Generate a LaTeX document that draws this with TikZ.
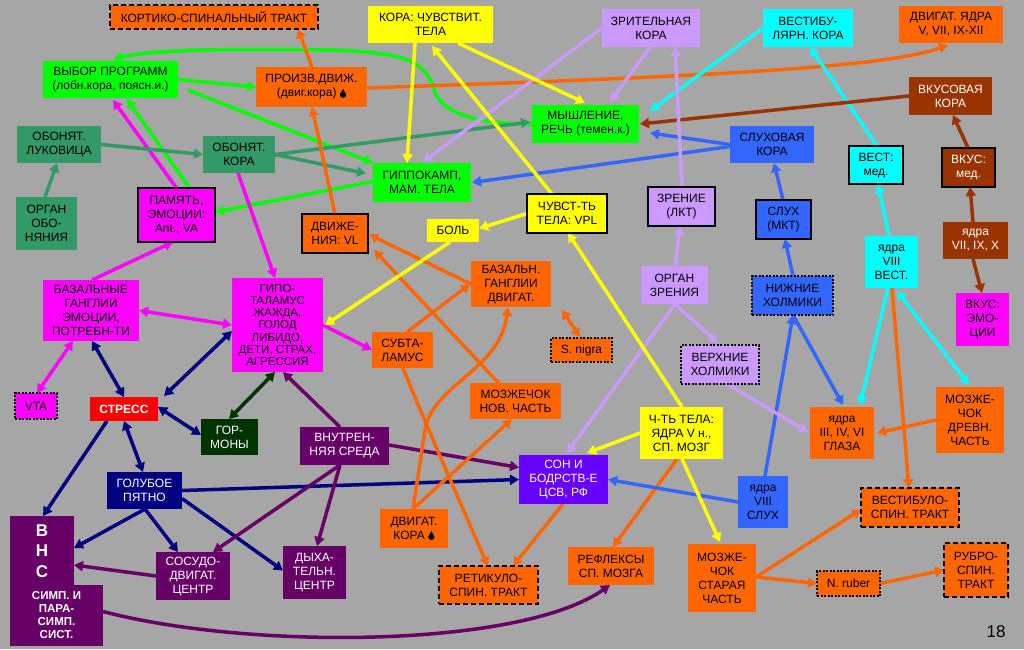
\documentclass[tikz,border=0pt]{standalone}
\usepackage{fontspec}
\setmainfont{Liberation Sans}
\usetikzlibrary{arrows.meta,calc}
\definecolor{bgc}{HTML}{A6A6A6}
\definecolor{cor}{HTML}{FF6600}
\definecolor{cye}{HTML}{FFFF00}
\definecolor{clav}{HTML}{CC99FF}
\definecolor{ccy}{HTML}{00FFFF}
\definecolor{cgr}{HTML}{00FF00}
\definecolor{cbr}{HTML}{993300}
\definecolor{csg}{HTML}{339966}
\definecolor{cbl}{HTML}{3366FF}
\definecolor{cmg}{HTML}{FF00FF}
\definecolor{cred}{HTML}{FF0000}
\definecolor{cnv}{HTML}{000080}
\definecolor{cdg}{HTML}{003300}
\definecolor{cpu}{HTML}{660066}
\definecolor{cvi}{HTML}{6600FF}
\pgfdeclarelayer{bgl}\pgfdeclarelayer{edl}\pgfsetlayers{bgl,edl,main}
\newcommand\bx[7]{\node[box,#6,minimum width={#4pt-#2pt},minimum height={#5pt-#3pt}] (#1) at ({(#2+#4)/2},{(#3+#5)/2}) {#7};}
\newcommand\drp{\tikz[baseline=0pt]\fill[black] (0pt,8pt) .. controls (0.7pt,5.5pt) and (3.2pt,4pt) .. (3.2pt,2.3pt) .. controls (3.2pt,0.5pt) and (1.8pt,-0.9pt) .. (0pt,-0.9pt) .. controls (-1.8pt,-0.9pt) and (-3.2pt,0.5pt) .. (-3.2pt,2.3pt) .. controls (-3.2pt,4pt) and (-0.7pt,5.5pt) .. cycle;}
\begin{document}
\begin{tikzpicture}[x=1pt,y=-1pt,
 box/.style={rectangle,inner sep=1pt,outer sep=0pt,align=center,font=\fontsize{12}{14}\selectfont,text=black},
 bd/.style={draw=black,line width=1.2pt},
 dsh/.style={draw=black,line width=1.3pt,dash pattern=on 5pt off 3pt},
 dtt/.style={draw=black,line width=2pt,dash pattern=on 2pt off 1.5pt},
 ar/.style={line width=3.5pt,-{Triangle[length=9pt,width=10pt]}},
 dar/.style={line width=3.5pt,{Triangle[length=9pt,width=10pt]}-{Triangle[length=9pt,width=10pt]}}]
\useasboundingbox (0,0) rectangle (1024,649);
\begin{pgfonlayer}{bgl}
\fill[bgc] (0,0) rectangle (1024,649);
\end{pgfonlayer}
% nodes
\bx{kort}{110}{5}{318}{29}{fill=cor,dsh}{КОРТИКО-СПИНАЛЬНЫЙ ТРАКТ}
\bx{korach}{368}{6}{493}{43}{fill=cye}{КОРА: ЧУВСТВИТ.\\ТЕЛА}
\bx{zrk}{602}{9}{700}{47}{fill=clav}{ЗРИТЕЛЬНАЯ\\КОРА}
\bx{vestk}{763}{9}{853}{47}{fill=ccy}{ВЕСТИБУ-\\ЛЯРН. КОРА}
\bx{dvyad}{899}{6}{1003}{43}{fill=cor}{ДВИГАТ. ЯДРА\\V, VII, IX-XII}
\bx{vybor}{43}{61}{178}{98}{fill=cgr}{ВЫБОР ПРОГРАММ\\(лобн.кора, поясн.и.)}
\bx{proizv}{256}{67}{367}{107}{fill=cor}{ПРОИЗВ.ДВИЖ.\\(двиг.кора) \drp}
\bx{vkusk}{909}{77}{992}{115}{fill=cbr,text=white}{ВКУСОВАЯ\\КОРА}
\bx{mysh}{532}{105}{639}{143}{fill=cgr}{МЫШЛЕНИЕ,\\РЕЧЬ (темен.к.)}
\bx{oblu}{17}{126}{101}{163}{fill=csg}{ОБОНЯТ.\\ЛУКОВИЦА}
\bx{obk}{203}{136}{275}{173}{fill=csg}{ОБОНЯТ.\\КОРА}
\bx{gipk}{373}{163}{471}{202}{fill=cgr}{ГИППОКАМП,\\МАМ. ТЕЛА}
\bx{sluhk}{730}{126}{814}{163}{fill=cbl}{СЛУХОВАЯ\\КОРА}
\bx{vestmed}{849}{146}{903}{184}{fill=ccy,bd}{ВЕСТ:\\мед.}
\bx{vkusmed}{942}{148}{995}{187}{fill=cbr,bd,text=white}{ВКУС:\\мед.}
\bx{organob}{16}{197}{77}{250}{fill=csg}{ОРГАН\\ОБО-\\НЯНИЯ}
\bx{pam}{138}{188}{215}{242}{fill=cmg,bd}{ПАМЯТЬ,\\ЭМОЦИИ:\\Ant., VA}
\bx{dvvl}{302}{214}{368}{253}{fill=cor,bd}{ДВИЖЕ-\\НИЯ: VL}
\bx{bol}{427}{219}{479}{242}{fill=cye}{БОЛЬ}
\bx{vpl}{527}{194}{607}{233}{fill=cye,bd}{ЧУВСТ-ТЬ\\ТЕЛА: VPL}
\bx{lkt}{648}{187}{715}{226}{fill=clav,bd}{ЗРЕНИЕ\\(ЛКТ)}
\bx{mkt}{756}{200}{811}{239}{fill=cbl,bd}{СЛУХ\\(МКТ)}
\bx{yad8v}{865}{236}{918}{288}{fill=ccy}{ядра\\VIII\\ВЕСТ.}
\bx{yad79}{943}{222}{1008}{259}{fill=cbr,text=white}{ядра\\VII, IX, X}
\bx{vkusemo}{956}{293}{1009}{346}{fill=cmg}{ВКУС:\\ЭМО-\\ЦИИ}
\bx{nizh}{752}{276}{833}{315}{fill=cbl,dtt}{НИЖНИЕ\\ХОЛМИКИ}
\bx{bazem}{43}{280}{139}{341}{fill=cmg}{БАЗАЛЬНЫЕ\\ГАНГЛИИ\\ЭМОЦИИ,\\ПОТРЕБН-ТИ}
\bx{gipot}{232}{278}{323}{372}{fill=cmg,font=\fontsize{11.5}{12.3}\selectfont}{ГИПО-\\ТАЛАМУС\\ЖАЖДА,\\ГОЛОД\\ЛИБИДО,\\ДЕТИ, СТРАХ,\\АГРЕССИЯ}
\bx{bazdv}{471}{261}{551}{307}{fill=cor}{БАЗАЛЬН.\\ГАНГЛИИ\\ДВИГАТ.}
\bx{subt}{372}{332}{433}{368}{fill=cor}{СУБТА-\\ЛАМУС}
\bx{snigra}{551}{338}{612}{362}{fill=cor,dtt}{S. nigra}
\bx{orgzr}{641}{266}{708}{304}{fill=clav}{ОРГАН\\ЗРЕНИЯ}
\bx{verh}{681}{345}{759}{384}{fill=clav,dtt}{ВЕРХНИЕ\\ХОЛМИКИ}
\bx{vta}{15}{393}{57}{419}{fill=cmg,dtt}{VTA}
\bx{stress}{90}{397}{158}{421}{fill=cred,text=white,font=\bfseries\fontsize{12}{14}\selectfont}{СТРЕСС}
\bx{gorm}{201}{419}{258}{455}{fill=cdg,text=white}{ГОР-\\МОНЫ}
\bx{mozhnov}{470}{383}{561}{419}{fill=cor}{МОЗЖЕЧОК\\НОВ. ЧАСТЬ}
\bx{mozhdr}{936}{387}{1004}{453}{fill=cor}{МОЗЖЕ-\\ЧОК\\ДРЕВН.\\ЧАСТЬ}
\bx{yad346}{810}{407}{874}{459}{fill=cor}{ядра\\III, IV, VI\\ГЛАЗА}
\bx{chtel}{640}{407}{723}{459}{fill=cye}{Ч-ТЬ ТЕЛА:\\ЯДРА V н.,\\СП. МОЗГ}
\bx{vnutr}{300}{427}{389}{465}{fill=cpu,text=white}{ВНУТРЕН-\\НЯЯ СРЕДА}
\bx{golub}{107}{472}{182}{509}{fill=cnv,text=white}{ГОЛУБОЕ\\ПЯТНО}
\bx{son}{519}{455}{608}{504}{fill=cvi,text=white}{СОН И\\БОДРСТВ-Е\\ЦСВ, РФ}
\bx{yad8s}{738}{476}{788}{528}{fill=cbl}{ядра\\VIII\\СЛУХ}
\bx{vestsp}{861}{488}{959}{527}{fill=cor,dsh}{ВЕСТИБУЛО-\\СПИН. ТРАКТ}
\bx{vns}{10}{516}{74}{586}{fill=cpu,text=white,font=\bfseries\fontsize{17}{20.5}\selectfont}{В\\Н\\С}
\bx{vnsb}{10}{585}{103}{646}{fill=cpu,text=white,font=\bfseries\fontsize{11.5}{13}\selectfont}{СИМП. И\\ПАРА-\\СИМП.\\СИСТ.}
\bx{sosud}{156}{552}{230}{600}{fill=cpu,text=white}{СОСУДО-\\ДВИГАТ.\\ЦЕНТР}
\bx{dyh}{283}{546}{346}{599}{fill=cpu,text=white}{ДЫХА-\\ТЕЛЬН.\\ЦЕНТР}
\bx{dvkora}{380}{509}{448}{548}{fill=cor}{ДВИГАТ.\\КОРА \drp}
\bx{retik}{439}{566}{538}{604}{fill=cor,dsh}{РЕТИКУЛО-\\СПИН. ТРАКТ}
\bx{refl}{568}{547}{654}{585}{fill=cor}{РЕФЛЕКСЫ\\СП. МОЗГА}
\bx{mozhst}{688}{544}{756}{612}{fill=cor}{МОЗЖЕ-\\ЧОК\\СТАРАЯ\\ЧАСТЬ}
\bx{nruber}{817}{571}{880}{596}{fill=cor,dtt}{N. ruber}
\bx{rubro}{944}{543}{1008}{597}{fill=cor,dsh}{РУБРО-\\СПИН.\\ТРАКТ}
\node[font=\fontsize{17}{20}\selectfont] (pg) at (996,632) {18};
% connectors
\begin{pgfonlayer}{edl}
% green
\draw[ar,cgr] (mysh.west) .. controls (480,124) and (440,115) .. (433,87) .. controls (425,60) and (400,52) .. (330,50) .. controls (230,48) and (150,50) .. ($(vybor.north)+(3,-2)$);
\draw[ar,cgr] (vybor.east) -- (proizv.west);
\draw[ar,cgr] ($(vybor.south east)+(10,-8)$) -- (gipk.north west);
\draw[ar,cgr] ($(gipk.west)+(0,-1)$) -- ($(pam.east)+(0,-3)$);
\draw[ar,cgr] ($(pam.north)+(13,0)$) -- ($(vybor.south west)+(84,1)$);
% magenta
\draw[ar,cmg] (pam.north) -- ($(vybor.south west)+(70,2)$);
\draw[ar,cmg] ($(obk.south west)+(35,0)$) -- ($(gipot.north west)+(43,0)$);
\draw[ar,cmg] ($(bazem.north west)+(49,0)$) -- ($(pam.south west)+(35,0)$);
\draw[dar,cmg] (bazem.east) -- (gipot.west);
\draw[dar,cmg] ($(bazem.south west)+(30,0)$) -- ($(vta.north west)+(22,0)$);
\draw[ar,cmg] (gipot.east) -- (subt.west);
% navy
\draw[dar,cnv] ($(bazem.south west)+(49,0)$) -- ($(stress.north west)+(34,0)$);
\draw[dar,cnv] ($(gipot.west)+(0,6)$) -- ($(stress.north east)+(6,-1)$);
\draw[dar,cnv] ($(stress.east)+(0,-2)$) -- ($(gorm.west)+(0,-2)$);
\draw[dar,cnv] ($(stress.south west)+(34,0)$) -- ($(golub.north west)+(36,0)$);
\draw[ar,cnv] ($(stress.south west)+(17,0)$) -- ($(vns.north west)+(33,0)$);
\draw[ar,cnv] ($(golub.south west)+(38,0)$) -- ($(vns.east)+(0,-3)$);
\draw[ar,cnv] ($(golub.south west)+(38,0)$) -- ($(sosud.north west)+(22,0)$);
\draw[ar,cnv] ($(golub.east)+(0,8)$) -- ($(dyh.west)+(0,-2)$);
\draw[ar,cnv] (golub.east) -- (son.west);
% dark green
\draw[dar,cdg] ($(gipot.south west)+(43,0)$) -- ($(gorm.north west)+(28,0)$);
% purple
\draw[ar,cpu] ($(vnutr.north west)+(40,0)$) -- ($(gipot.south west)+(51,0)$);
\draw[ar,cpu] ($(vnutr.east)+(0,-1)$) -- ($(son.west)+(0,-12)$);
\draw[ar,cpu] ($(vnutr.south west)+(40,0)$) -- ($(dyh.north west)+(34,0)$);
\draw[ar,cpu] ($(vnutr.south west)+(40,0)$) -- ($(sosud.north west)+(57,0)$);
\draw[ar,cpu] (sosud.west) -- ($(vns.east)+(0,14)$);
\draw[ar,cpu] ($(vnsb.east)+(0,-4)$) .. controls (250,650) and (520,648) .. ($(refl.south west)+(42,0)$);
% sea green
\draw[ar,csg] ($(organob.north west)+(29,0)$) -- ($(oblu.south west)+(40,0)$);
\draw[ar,csg] (oblu.east) -- (obk.west);
\draw[ar,csg] (obk.east) -- ($(gipk.west)+(-7,-9)$);
\draw[ar,csg] (obk.east) -- ($(mysh.west)+(-2,-2)$);
% orange
\draw[ar,cor] ($(proizv.east)+(0,1)$) .. controls (650,78) and (880,70) .. ($(dvyad.south west)+(49,2)$);
\draw[ar,cor] ($(proizv.north west)+(56,0)$) -- ($(kort.south east)+(-20,0)$);
\draw[ar,cor] ($(dvvl.north west)+(33,0)$) -- ($(proizv.south west)+(56,0)$);
\draw[ar,cor] (bazdv.west) -- ($(dvvl.east)+(1,1)$);
\draw[ar,cor] (mozhnov.center) -- ($(dvvl.south east)+(6,-3)$);
\draw[ar,cor] ($(subt.north west)+(35,0)$) -- ($(bazdv.west)+(-1,0)$);
\draw[ar,cor] ($(subt.south west)+(31,0)$) .. controls (420,410) and (450,480) .. ($(retik.north west)+(49,0)$);
\draw[ar,cor] ($(dvkora.north west)+(33,0)$) -- (425,430) .. controls (432,385) and (500,370) .. ($(bazdv.south west)+(37,0)$);
\draw[ar,cor] ($(dvkora.north west)+(33,0)$) -- ($(mozhnov.south west)+(42,0)$);
\draw[dar,cor] ($(bazdv.south east)+(11,3)$) -- ($(snigra.north west)+(29,-1)$);
\draw[ar,cor] ($(son.south west)+(44,0)$) -- ($(retik.north east)+(-25,0)$);
\draw[ar,cor] ($(chtel.south west)+(37,0)$) -- ($(refl.north west)+(45,0)$);
\draw[ar,cor] ($(mozhst.east)+(0,-1)$) -- ($(vestsp.west)+(0,2)$);
\draw[ar,cor] ($(mozhst.east)+(0,-1)$) -- (nruber.west);
\draw[ar,cor] (nruber.east) -- (rubro.west);
\draw[ar,cor] ($(yad8v.south west)+(27,0)$) -- ($(vestsp.north west)+(48,0)$);
\draw[ar,cor] (mozhdr.west) -- ($(yad346.east)+(3,0)$);
% cyan
\draw[ar,ccy] ($(yad8v.north west)+(24,0)$) -- ($(vestmed.south west)+(29,0)$);
\draw[ar,ccy] ($(vestmed.north west)+(28,0)$) -- ($(vestk.south west)+(47,0)$);
\draw[ar,ccy] (vestk.west) -- ($(mysh.east)+(11,-13)$);
\draw[ar,ccy] ($(yad8v.south west)+(23,0)$) -- ($(yad346.north west)+(50,-2)$);
\draw[dar,ccy] ($(yad8v.south west)+(32,3)$) -- ($(mozhdr.north west)+(33,-2)$);
% brown
\draw[ar,cbr] (vkusk.west) -- ($(mysh.east)+(1,0)$);
\draw[ar,cbr] ($(vkusmed.north west)+(26,0)$) -- ($(vkusk.south west)+(44,0)$);
\draw[ar,cbr] ($(yad79.north west)+(30,0)$) -- ($(vkusmed.south west)+(28,0)$);
\draw[ar,cbr] ($(yad79.south west)+(30,0)$) -- ($(vkusemo.north west)+(26,0)$);
% blue
\draw[ar,cbl] (sluhk.west) -- ($(mysh.east)+(11,9)$);
\draw[ar,cbl] ($(sluhk.west)+(0,2)$) -- ($(gipk.east)+(1,0)$);
\draw[ar,cbl] ($(mkt.north west)+(27,0)$) -- ($(sluhk.south west)+(44,0)$);
\draw[ar,cbl] ($(nizh.north west)+(41,0)$) -- ($(mkt.south west)+(29,0)$);
\draw[ar,cbl] ($(yad8s.north west)+(27,0)$) -- ($(nizh.south west)+(41,0)$);
\draw[ar,cbl] ($(nizh.south west)+(41,0)$) -- ($(yad346.north west)+(33,-2)$);
\draw[ar,cbl] (yad8s.west) -- (son.east);
% lavender
\draw[ar,clav] ($(zrk.south west)+(48,0)$) -- ($(mysh.north west)+(78,-3)$);
\draw[ar,clav] (zrk.west) -- ($(gipk.north west)+(50,-1)$);
\draw[ar,clav] ($(lkt.north west)+(34,0)$) -- ($(zrk.south west)+(73,0)$);
\draw[ar,clav] ($(orgzr.north west)+(34,0)$) -- ($(lkt.south west)+(32,0)$);
\draw[ar,clav] ($(orgzr.south west)+(34,0)$) -- ($(verh.north west)+(37,-2)$);
\draw[ar,clav] ($(orgzr.south west)+(34,0)$) -- ($(son.north west)+(48,-2)$);
\draw[ar,clav] ($(verh.south west)+(46,0)$) -- ($(yad346.west)+(-2,-1)$);
% yellow
\draw[ar,cye] ($(korach.south west)+(47,0)$) -- ($(gipk.north west)+(34,0)$);
\draw[ar,cye] ($(vpl.north west)+(25,0)$) -- ($(korach.south west)+(64,3)$);
\draw[ar,cye] ($(korach.south west)+(90,0)$) -- ($(mysh.north west)+(53,-2)$);
\draw[ar,cye] (vpl.west) -- ($(bol.east)+(0,-2)$);
\draw[ar,cye] ($(bol.south west)+(23,0)$) -- ($(gipot.east)+(2,0)$);
\draw[ar,cye] ($(chtel.north west)+(42,0)$) -- ($(vpl.south west)+(41,0)$);
\draw[ar,cye] (chtel.west) -- ($(son.north east)+(-21,-2)$);
\draw[ar,cye] ($(chtel.south west)+(42,0)$) -- ($(mozhst.north west)+(32,-2)$);
\end{pgfonlayer}
\end{tikzpicture}
\end{document}
